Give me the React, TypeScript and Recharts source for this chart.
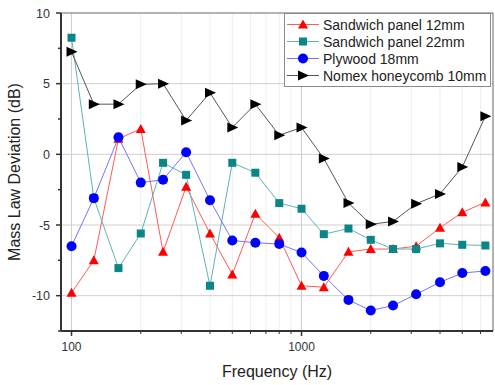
import { LineChart, Line, XAxis, YAxis, ReferenceLine } from "recharts";

const FREQS = [100, 125, 160, 200, 250, 315, 400, 500, 630, 800, 1000, 1250, 1600, 2000, 2500, 3150, 4000, 5000, 6300];
const PANEL_12 = [-9.8, -7.5, 1.1, 1.8, -6.9, -2.3, -5.6, -8.5, -4.2, -5.9, -9.3, -9.4, -6.9, -6.7, -6.7, -6.5, -5.2, -4.1, -3.4];
const PANEL_22 = [8.25, -3.1, -8.05, -5.6, -0.6, -1.45, -9.3, -0.6, -1.3, -3.45, -3.85, -5.65, -5.25, -6.05, -6.7, -6.7, -6.3, -6.4, -6.45];
const PLYWOOD = [-6.5, -3.1, 1.2, -2.0, -1.8, 0.15, -3.25, -6.1, -6.25, -6.35, -6.95, -8.6, -10.3, -11.05, -10.7, -9.9, -9.05, -8.4, -8.25];
const NOMEX = [7.25, 3.55, 3.55, 4.95, 5.0, 2.4, 4.35, 1.9, 3.55, 1.35, 1.9, -0.3, -3.45, -4.95, -4.75, -3.5, -2.8, -0.9, 2.7];

const X_TICKS = [100, 200, 300, 400, 500, 600, 700, 800, 900, 1000, 2000, 3000, 4000, 5000, 6000];
const X_MAJOR = [100, 1000];
const Y_TICKS = [-12.5, -10, -7.5, -5, -2.5, 0, 2.5, 5, 7.5, 10];
const Y_MAJOR = [-10, -5, 0, 5];

const SERIES = [
  { key: "p12", name: "Sandwich panel 12mm", line: "#ff5a5a", fill: "#ff0000", shape: "tri" },
  { key: "p22", name: "Sandwich panel 22mm", line: "#5fb3b3", fill: "#0b8585", shape: "square" },
  { key: "ply", name: "Plywood 18mm", line: "#7474ff", fill: "#0000ff", shape: "circle" },
  { key: "nmx", name: "Nomex honeycomb 10mm", line: "#555555", fill: "#000000", shape: "right" },
];

const data = FREQS.map((f, i) => ({
  f,
  p12: PANEL_12[i],
  p22: PANEL_22[i],
  ply: PLYWOOD[i],
  nmx: NOMEX[i],
}));

const FONT = "'Liberation Sans', Arial, sans-serif";

function marker(shape: string, cx: number, cy: number, fill: string, key?: string | number) {
  if (shape === "tri")
    return <polygon key={key} points={`${cx},${cy - 5} ${cx - 5},${cy + 4} ${cx + 5},${cy + 4}`} fill={fill} />;
  if (shape === "square")
    return <rect key={key} x={cx - 4} y={cy - 4} width={8} height={8} fill={fill} />;
  if (shape === "circle") return <circle key={key} cx={cx} cy={cy} r={5} fill={fill} />;
  return <polygon key={key} points={`${cx - 5},${cy - 5} ${cx + 6},${cy} ${cx - 5},${cy + 5}`} fill={fill} />;
}

function XTick({ x, y, payload }: any) {
  const major = X_MAJOR.includes(payload.value);
  return (
    <g>
      <line x1={x} x2={x} y1={y} y2={y + (major ? 5 : 3)} stroke="#333" strokeWidth={major ? 1.5 : 1} />
      {major && (
        <text x={x} y={y + 20} textAnchor="middle" fontSize={12} fill="#333" fontFamily={FONT}>
          {payload.value}
        </text>
      )}
    </g>
  );
}

function YTick({ x, y, payload }: any) {
  const major = payload.value % 5 === 0;
  return (
    <g>
      <line x1={x} x2={x - (major ? 5 : 3)} y1={y} y2={y} stroke="#333" strokeWidth={1.5} />
      {major && (
        <text x={x - 11} y={y + 4.5} textAnchor="end" fontSize={12.5} fill="#333" fontFamily={FONT}>
          {payload.value}
        </text>
      )}
    </g>
  );
}

function LegendBox() {
  return (
    <div
      style={{
        position: "absolute",
        left: 284,
        top: 13,
        width: 205,
        height: 70,
        border: "1px solid #8a8a8a",
        background: "#fff",
        paddingTop: 2,
        boxSizing: "content-box",
        fontFamily: FONT,
        fontSize: 14,
        color: "#222",
      }}
    >
      {SERIES.map((s) => (
        <div key={s.key} style={{ display: "flex", alignItems: "center", height: 17 }}>
          <svg width={38} height={17}>
            <line x1={2} x2={34} y1={8.5} y2={8.5} stroke={s.line} strokeWidth={1} />
            {marker(s.shape, 18, 8.5, s.fill)}
          </svg>
          <span style={{ whiteSpace: "nowrap" }}>{s.name}</span>
        </div>
      ))}
    </div>
  );
}

export default function App() {
  return (
    <div style={{ position: "absolute", left: 0, top: 0, width: 495, height: 385, background: "#fff" }}>
      <LineChart width={495} height={385} data={data} margin={{ top: 13, right: 2, left: 0, bottom: 0 }}>
        {X_TICKS.filter((t) => !X_MAJOR.includes(t)).map((t) => (
          <ReferenceLine key={`mx${t}`} x={t} stroke="#efefef" strokeWidth={1} />
        ))}
        {X_MAJOR.map((t) => (
          <ReferenceLine key={`x${t}`} x={t} stroke="#cfcfcf" strokeWidth={1} />
        ))}
        {Y_MAJOR.map((t) => (
          <ReferenceLine key={`y${t}`} y={t} stroke="#cfcfcf" strokeWidth={1} />
        ))}
        <ReferenceLine y={10} stroke="#666" strokeWidth={1} />
        <ReferenceLine x={6800} stroke="#666" strokeWidth={1} />
        <XAxis
          dataKey="f"
          type="number"
          scale="log"
          domain={[90, 6800]}
          allowDataOverflow
          ticks={X_TICKS}
          interval={0}
          tick={<XTick />}
          tickLine={false}
          tickSize={0}
          tickMargin={0}
          axisLine={{ stroke: "#333", strokeWidth: 2 }}
          height={54}
          label={{ value: "Frequency (Hz)", position: "insideBottom", offset: 8, fontSize: 16, fill: "#222", fontFamily: FONT }}
        />
        <YAxis
          type="number"
          domain={[-12.5, 10]}
          ticks={Y_TICKS}
          interval={0}
          tick={<YTick />}
          tickLine={false}
          tickSize={0}
          tickMargin={0}
          axisLine={{ stroke: "#333", strokeWidth: 2 }}
          width={61}
          label={{
            value: "Mass Law Deviation (dB)",
            angle: -90,
            position: "insideLeft",
            offset: 14,
            style: { textAnchor: "middle" },
            fontSize: 16,
            fill: "#222",
            fontFamily: FONT,
          }}
        />
        {SERIES.map((s) => (
          <Line
            key={s.key}
            type="linear"
            dataKey={s.key}
            name={s.name}
            stroke={s.line}
            strokeWidth={1}
            isAnimationActive={false}
            dot={(p: any) => marker(s.shape, p.cx, p.cy, s.fill, `${s.key}-${p.index}`)}
            activeDot={false}
          />
        ))}
      </LineChart>
      <LegendBox />
    </div>
  );
}
